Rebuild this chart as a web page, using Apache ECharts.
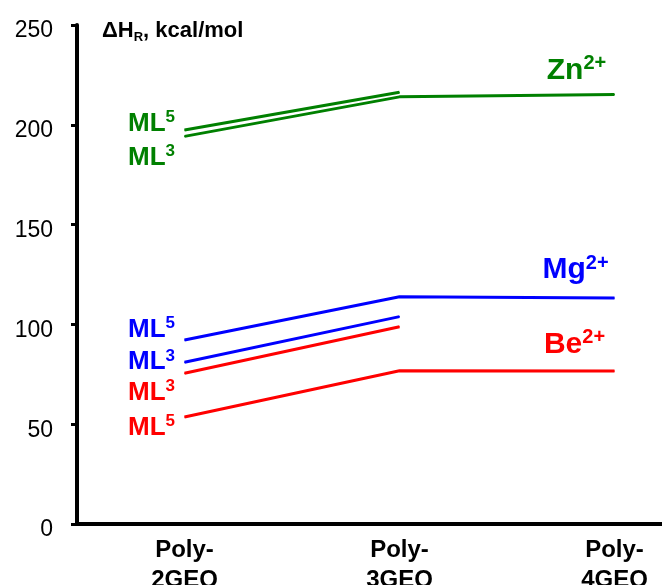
<!DOCTYPE html>
<html>
<head>
<meta charset="utf-8">
<script src="https://cdn.jsdelivr.net/npm/echarts@6/dist/echarts.min.js"></script>
<style>html,body{margin:0;padding:0;background:#fff;}#c{width:662px;height:585px;}</style>
</head>
<body>
<div id="c"></div>
<script>
var categories = ['Poly-\n2GEQ', 'Poly-\n3GEQ', 'Poly-\n4GEQ'];
var yTicks = [0, 50, 100, 150, 200, 250];
var znML5 = [197.4, 216.3, null];
var znML3 = [194.2, 214.0, 215.2];
var mgML5 = [92.2, 113.9, 113.2];
var mgML3 = [81.0, 103.9, null];
var beML3 = [75.5, 98.8, null];
var beML5 = [53.6, 76.8, 76.7];
var seriesNames = ['Zn ML5', 'Zn ML3', 'Mg ML5', 'Mg ML3', 'Be ML3', 'Be ML5'];
var ionNames = ['Zn', 'Mg', 'Be'];

var FONT = 'Liberation Sans, Arial, sans-serif';
var GREEN = '#008000', BLUE = '#0000ff', RED = '#ff0000';

function richFor(color) {
  return {
    m: {fontSize: 26, fontWeight: 'bold', color: color, fontFamily: FONT, lineHeight: 30},
    s: {fontSize: 17, fontWeight: 'bold', color: color, fontFamily: FONT, verticalAlign: 'top', lineHeight: 22},
    i: {fontSize: 30, fontWeight: 'bold', color: color, fontFamily: FONT, lineHeight: 34},
    j: {fontSize: 20, fontWeight: 'bold', color: color, fontFamily: FONT, verticalAlign: 'top', lineHeight: 26}
  };
}

function withLabels(arr, color, first, last) {
  return arr.map(function (v, k) {
    var item = {value: v};
    if (k === 0 && first) {
      item.label = {show: true, position: 'left', distance: 9, offset: [0, first.dy],
        formatter: '{m|ML}{s|' + first.sup + '}', rich: richFor(color)};
    }
    if (k === arr.length - 1 && last && v != null) {
      item.label = {show: true, position: 'inside', offset: [last.dx, last.dy],
        formatter: '{i|' + last.ion + '}{j|2+}', rich: richFor(color)};
    }
    return item;
  });
}

function mkSeries(name, arr, color, first, last) {
  return {
    name: name, type: 'line', data: withLabels(arr, color, first, last),
    symbol: 'circle', symbolSize: 1, showSymbol: true, connectNulls: false,
    lineStyle: {color: color, width: 3}, itemStyle: {color: color},
    silent: true, animation: false, z: 3
  };
}

var chart = echarts.init(document.getElementById('c'), null, {renderer: 'canvas'});
chart.setOption({
  animation: false,
  backgroundColor: '#fff',
  title: {
    text: '{t|ΔH}{r|R}{t|, kcal/mol}',
    left: 97, top: 13,
    textStyle: {
      rich: {
        t: {fontSize: 22, fontWeight: 'bold', color: '#000', fontFamily: FONT, lineHeight: 26},
        r: {fontSize: 13, fontWeight: 'bold', color: '#000', fontFamily: FONT, verticalAlign: 'bottom', lineHeight: 15}
      }
    }
  },
  grid: {left: 77, right: -60, top: 25, bottom: 61, containLabel: false, outerBoundsMode: 'none'},
  xAxis: {
    type: 'category', data: categories, boundaryGap: true,
    axisLine: {lineStyle: {color: '#000', width: 4}},
    axisTick: {show: false},
    axisLabel: {color: '#000', fontSize: 24, fontWeight: 'bold', fontFamily: FONT, lineHeight: 30, margin: 11, interval: 0}
  },
  yAxis: {
    type: 'value', min: yTicks[0], max: yTicks[yTicks.length - 1], interval: 50,
    axisLine: {show: true, lineStyle: {color: '#000', width: 4}},
    axisTick: {show: true, length: 6, lineStyle: {color: '#000', width: 3}},
    splitLine: {show: false},
    axisLabel: {
      margin: 24,
      formatter: function (v) { return '{a|' + v + '}'; },
      rich: {a: {color: '#000', fontSize: 23, fontFamily: FONT, padding: [12, 0, 0, 0]}}
    }
  },
  series: [
    mkSeries(seriesNames[0], znML5, GREEN, {sup: '5', dy: -6}, null),
    mkSeries(seriesNames[1], znML3, GREEN, {sup: '3', dy: 21}, {ion: ionNames[0], dx: -38, dy: -24}),
    mkSeries(seriesNames[2], mgML5, BLUE, {sup: '5', dy: -10}, {ion: ionNames[1], dx: -39, dy: -28}),
    mkSeries(seriesNames[3], mgML3, BLUE, {sup: '3', dy: 0}, null),
    mkSeries(seriesNames[4], beML3, RED, {sup: '3', dy: 20}, null),
    mkSeries(seriesNames[5], beML5, RED, {sup: '5', dy: 11}, {ion: ionNames[2], dx: -40, dy: -26})
  ]
});
</script>
</body>
</html>
